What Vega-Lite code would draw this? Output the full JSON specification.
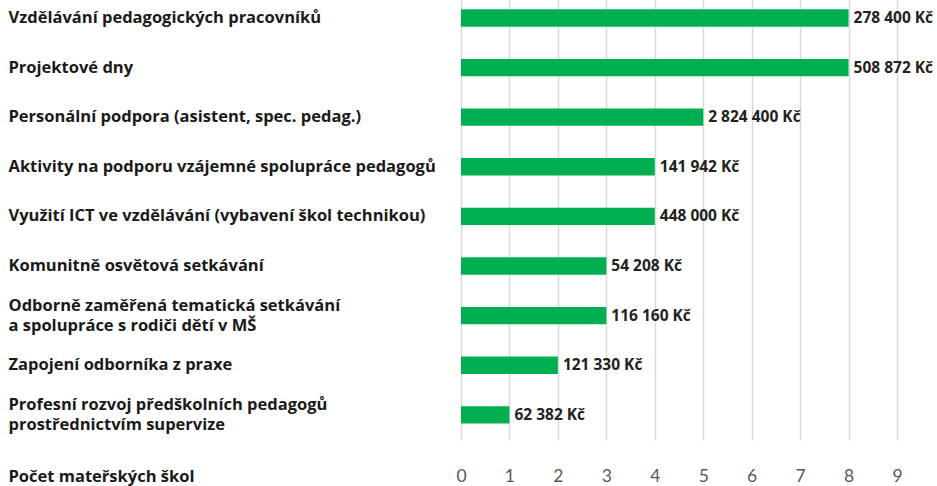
{
  "$schema": "https://vega.github.io/schema/vega-lite/v6.json",
  "width": 436,
  "height": 440,
  "autosize": {"type": "none"},
  "padding": {"left": 461, "top": 0, "right": 40, "bottom": 46},
  "background": "white",
  "config": {"view": {"stroke": null}, "font": "Open Sans"},
  "data": {
    "values": [
      {"aktivita": "Vzdělávání pedagogických pracovníků", "pocet": 8, "castka": "278 400 Kč"},
      {"aktivita": "Projektové dny", "pocet": 8, "castka": "508 872 Kč"},
      {"aktivita": "Personální podpora (asistent, spec. pedag.)", "pocet": 5, "castka": "2 824 400 Kč"},
      {"aktivita": "Aktivity na podporu vzájemné spolupráce pedagogů", "pocet": 4, "castka": "141 942 Kč"},
      {"aktivita": "Využití ICT ve vzdělávání (vybavení škol technikou)", "pocet": 4, "castka": "448 000 Kč"},
      {"aktivita": "Komunitně osvětová setkávání", "pocet": 3, "castka": "54 208 Kč"},
      {"aktivita": "Odborně zaměřená tematická setkávání|a spolupráce s rodiči dětí v MŠ", "pocet": 3, "castka": "116 160 Kč"},
      {"aktivita": "Zapojení odborníka z praxe", "pocet": 2, "castka": "121 330 Kč"},
      {"aktivita": "Profesní rozvoj předškolních pedagogů|prostřednictvím supervize", "pocet": 1, "castka": "62 382 Kč"}
    ]
  },
  "encoding": {
    "y": {
      "field": "aktivita",
      "type": "nominal",
      "sort": null,
      "scale": {"paddingInner": 0.65, "paddingOuter": 0.26, "align": 0.36},
      "axis": {
        "title": null,
        "domain": false,
        "ticks": false,
        "tickSize": 0,
        "grid": false,
        "labelAlign": "left",
        "labelBaseline": "middle",
        "labelPadding": 453,
        "labelLimit": 0,
        "labelFontSize": 16.5,
        "labelFontWeight": "bold",
        "labelColor": "#1a1a1a",
        "labelLineHeight": 20,
        "labelOffset": {"condition": {"test": "indexof(datum.value, '|') >= 0", "value": -10}, "value": 0},
        "labelExpr": "split(datum.label, '|')"
      }
    }
  },
  "layer": [
    {
      "mark": {"type": "bar", "color": "#00B050"},
      "encoding": {
        "x": {
          "field": "pocet",
          "type": "quantitative",
          "scale": {"domain": [0, 9], "nice": false},
          "axis": {
            "values": [0, 1, 2, 3, 4, 5, 6, 7, 8, 9],
            "grid": true,
            "gridColor": "#d9d9d9",
            "gridWidth": 1.5,
            "domain": false,
            "ticks": false,
            "tickSize": 0,
            "labelFlush": false,
            "labelFontSize": 17.5,
            "labelColor": "#595959",
            "labelPadding": 27,
            "labelFont": "Lato",
            "title": "Počet mateřských škol",
            "titleX": -453,
            "titleY": 36,
            "titleAlign": "left",
            "titleAnchor": "start",
            "titleBaseline": "middle",
            "titleFontSize": 16.5,
            "titleFontWeight": "bold",
            "titleColor": "#1a1a1a"
          }
        }
      }
    },
    {
      "mark": {"type": "text", "align": "left", "baseline": "middle", "dx": 5, "fontWeight": "bold", "fontSize": 15.5, "color": "#222222"},
      "encoding": {
        "x": {"field": "pocet", "type": "quantitative"},
        "text": {"field": "castka"}
      }
    }
  ]
}
